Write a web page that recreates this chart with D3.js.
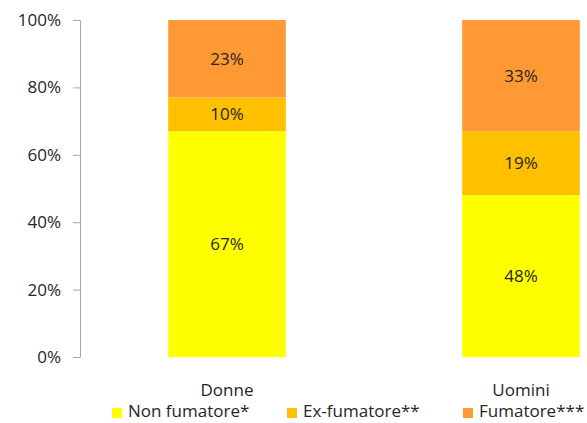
<!DOCTYPE html>
<html>
<head>
<meta charset="utf-8">
<script src="https://cdn.jsdelivr.net/npm/d3@7"></script>
<style>
  html, body { margin: 0; padding: 0; background: #fff; }
  svg text { font-family: "Open Sans", "Noto Sans", sans-serif; fill: #262626; }
</style>
</head>
<body>
<svg id="chart" width="587" height="423"></svg>
<script>
// Smoking status by sex (percent of each group)
const categories = ["Donne", "Uomini"];
const seriesNames = ["Non fumatore*", "Ex-fumatore**", "Fumatore***"];
const nonFumatore = [67, 48];
const exFumatore = [10, 19];
const fumatore = [23, 33];
const tickValues = [0, 20, 40, 60, 80, 100];
const seriesColors = ["#FFFF00", "#FFC000", "#FF9933"];

const svg = d3.select("#chart");
const fontSize = 17;

const rows = categories.map((c, i) => ({
  cat: c,
  "Non fumatore*": nonFumatore[i],
  "Ex-fumatore**": exFumatore[i],
  "Fumatore***": fumatore[i]
}));
const stacked = d3.stack().keys(seriesNames)(rows);

const x = d3.scaleBand().domain(categories).range([80, 668])
  .paddingInner(0.6).paddingOuter(0.3);
const y = d3.scaleLinear().domain([0, 100]).range([357, 20]);
const color = d3.scaleOrdinal().domain(seriesNames).range(seriesColors);

// Y axis
const yAxis = svg.append("g")
  .attr("transform", "translate(80,0)")
  .call(d3.axisLeft(y).tickValues(tickValues).tickFormat(d => d + "%")
    .tickSize(7).tickSizeOuter(0).tickPadding(12));
yAxis.select(".domain").attr("stroke", "#a6a6a6");
yAxis.selectAll(".tick line").attr("stroke", "#a6a6a6");
yAxis.selectAll(".tick text").attr("font-size", fontSize).attr("fill", "#262626")
  .style("font-family", "'Open Sans', sans-serif");

// Stacked bars
const layer = svg.append("g").selectAll("g").data(stacked).join("g")
  .attr("fill", d => color(d.key));
layer.selectAll("rect").data(d => d).join("rect")
  .attr("x", d => x(d.data.cat))
  .attr("width", x.bandwidth())
  .attr("y", d => y(d[1]))
  .attr("height", d => y(d[0]) - y(d[1]));

// Value labels centered in each segment
const labels = svg.append("g").selectAll("g").data(stacked).join("g");
labels.selectAll("text").data(d => d.map(v => ({ v, key: d.key }))).join("text")
  .attr("x", d => x(d.v.data.cat) + x.bandwidth() / 2)
  .attr("y", d => (y(d.v[0]) + y(d.v[1])) / 2)
  .attr("dy", "0.36em")
  .attr("text-anchor", "middle")
  .attr("font-size", fontSize)
  .text(d => d.v.data[d.key] + "%");

// Category labels
svg.append("g").selectAll("text").data(categories).join("text")
  .attr("x", d => x(d) + x.bandwidth() / 2)
  .attr("y", 396)
  .attr("text-anchor", "middle")
  .attr("font-size", fontSize)
  .text(d => d);

// Legend
const legendX = [112, 287, 463];
const legend = svg.append("g").selectAll("g").data(seriesNames).join("g")
  .attr("transform", (d, i) => `translate(${legendX[i]},0)`);
legend.append("rect")
  .attr("x", 0).attr("y", 408).attr("width", 10).attr("height", 10)
  .attr("fill", d => color(d));
legend.append("text")
  .attr("x", 16).attr("y", 417)
  .attr("font-size", fontSize)
  .text(d => d);
</script>
</body>
</html>
